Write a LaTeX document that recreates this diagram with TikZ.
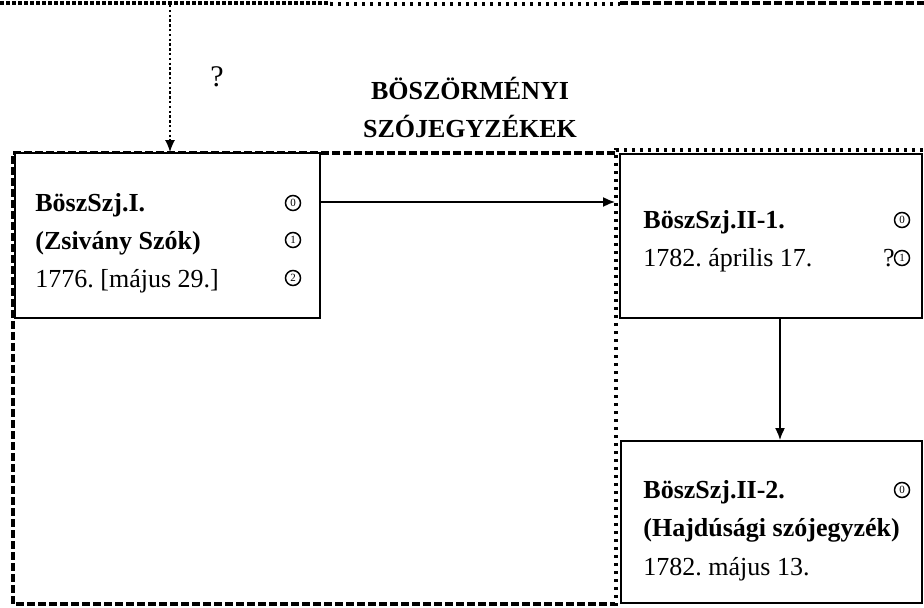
\documentclass[tikz,border=0pt]{standalone}
\usepackage{fontspec}
\setmainfont{Liberation Serif}
\usetikzlibrary{arrows.meta}
\frenchspacing
\tikzset{
  box/.style={draw, line width=0.9pt, fill=white, rectangle, inner sep=0pt},
  grpdash/.style={line width=2.1pt, dash pattern=on 4pt off 1.5pt},
  grpdot/.style={line width=1.6pt, dash pattern=on 1.6pt off 2.4pt},
  topthick/.style={line width=2pt, dash pattern=on 2pt off 1pt},
  topdash/.style={line width=1.6pt, dash pattern=on 4pt off 1.5pt},
  conn/.style={line width=0.9pt, -{Latex[length=6pt,width=5pt]}},
  dotconn/.style={line width=0.8pt, dash pattern=on 1.2pt off 1.2pt, -{Latex[length=6pt,width=5pt]}},
  txt/.style={anchor=base west, inner sep=0pt, font=\fontsize{13}{19}\selectfont},
  btxt/.style={anchor=base west, inner sep=0pt, font=\fontsize{13}{19}\selectfont\bfseries},
  cnum/.style={draw, circle, line width=0.75pt, inner sep=0pt, minimum size=7.5pt, font=\fontsize{5.5}{5.5}\selectfont}
}
\begin{document}
\begin{tikzpicture}[x=0.5pt, y=-0.5pt]
\useasboundingbox (0,0) rectangle (924,608);
% top lines (lower edges of cut-off frames)
\coordinate (t0) at (0,3);
\coordinate (t1) at (330,3);
\coordinate (t2) at (330,4);
\coordinate (t3) at (620,4);
\coordinate (t4) at (620,3);
\coordinate (t5) at (924,3);
\draw[topthick] (t0) -- (t1);
\draw[grpdot] (t2) -- (t3);
\draw[topdash] (t4) -- (t5);
% group frame
\coordinate (g1) at (615,153);
\coordinate (g2) at (13,153);
\coordinate (g3) at (13,604);
\coordinate (g4) at (615,604);
\draw[grpdash] (g1) -- (g2) -- (g3) -- (g4);
\coordinate (d1) at (616,150);
\coordinate (d2) at (616,606);
\coordinate (d3) at (924,150);
\draw[grpdot] (d2) -- (d1) -- (d3);
% boxes
\node[box, minimum width=152.5pt, minimum height=82.5pt] (I) at (167.5,235.5) {};
\node[box, minimum width=151pt, minimum height=82pt] (II1) at (771,236) {};
\node[box, minimum width=150.5pt, minimum height=81pt] (II2) at (771.5,522) {};
% header
\node[align=center, inner sep=0pt, font=\fontsize{13}{19}\selectfont\bfseries] (head) at (470,107) {BÖSZÖRMÉNYI\\SZÓJEGYZÉKEK};
\node[inner sep=0pt, font=\fontsize{15}{16}\selectfont] (q) at (217,77) {?};
% box I text
\node[btxt] (i1) at (35,212) {BöszSzj.I.};
\node[btxt] (i2) at (35,250) {(Zsivány Szók)};
\node[txt] (i3) at (35,288) {1776. [május 29.]};
\node[cnum] (c0) at (293,203) {0};
\node[cnum] (c1) at (293,240) {1};
\node[cnum] (c2) at (293,278) {2};
% box II-1 text
\node[btxt] (a1) at (643,229) {BöszSzj.II-1.};
\node[txt] (a2) at (643,267) {1782. április 17.};
\node[cnum] (ac0) at (902,220) {0};
\node[cnum] (ac1) at (902,258) {1};
\node[anchor=base east, inner sep=0pt, font=\fontsize{13}{19}\selectfont] (aq) at (895,267) {?};
% box II-2 text
\node[btxt] (b1) at (643,498) {BöszSzj.II-2.};
\node[btxt] (b2) at (643,536) {(Hajdúsági szójegyzék)};
\node[txt] (b3) at (643,575) {1782. május 13.};
\node[cnum] (bc0) at (902,490) {0};
% connectors
\coordinate (ay) at (0,202);
\coordinate (ax) at (780,0);
\coordinate (topq) at (170,5);
\draw[conn] (I.east |- ay) -- ([xshift=-2pt]II1.west |- ay);
\draw[conn] (II1.south -| ax) -- (II2.north -| ax);
\draw[dotconn] (topq) -- (I.north -| topq);
\end{tikzpicture}
\end{document}
